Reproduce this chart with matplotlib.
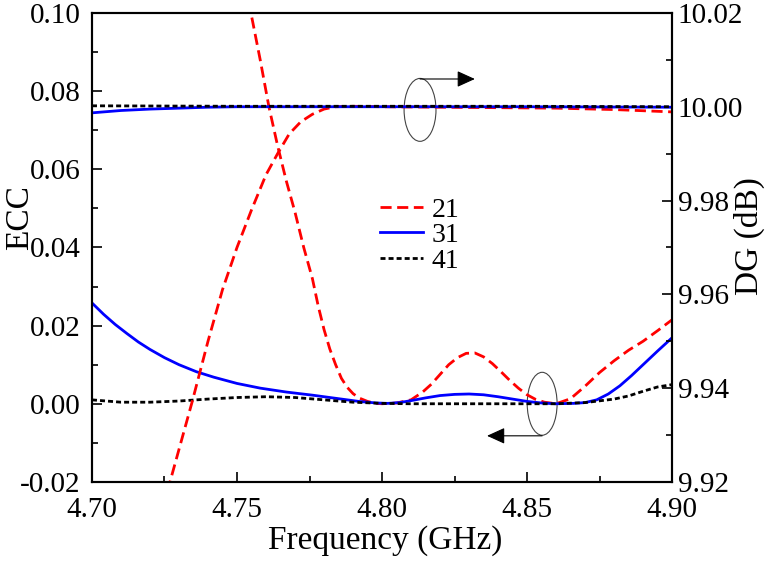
import matplotlib
matplotlib.use("Agg")
from matplotlib import pyplot as plt
from matplotlib.patches import Ellipse
from matplotlib.ticker import MultipleLocator

plt.rcParams['font.family'] = ['Liberation Serif', 'DejaVu Serif']

# ECC data
f21 = [4.754, 4.758, 4.761, 4.764, 4.767, 4.770, 4.773, 4.776, 4.778, 4.780, 4.782,
       4.784, 4.786, 4.788, 4.790, 4.792, 4.795, 4.798, 4.800, 4.805, 4.810, 4.814,
       4.817, 4.820, 4.823, 4.826, 4.829, 4.832, 4.835, 4.838, 4.841, 4.844, 4.847,
       4.850, 4.853, 4.856, 4.860, 4.865, 4.870, 4.875, 4.880, 4.885, 4.890, 4.895, 4.900]
ecc21 = [0.103, 0.088, 0.076, 0.066, 0.057, 0.049, 0.040, 0.032, 0.025, 0.019, 0.014,
         0.010, 0.0065, 0.0042, 0.0026, 0.0015, 0.0006, 0.0001, 0.0, 0.0002, 0.0010, 0.0030,
         0.0050, 0.0075, 0.0100, 0.0118, 0.0129, 0.0130, 0.0120, 0.0103, 0.0082, 0.0060, 0.0040,
         0.0023, 0.0011, 0.0004, 0.0, 0.0013, 0.0045, 0.0080, 0.0110, 0.0137, 0.0160, 0.0187, 0.0215]

f31 = [4.700, 4.704, 4.708, 4.712, 4.716, 4.720, 4.725, 4.730, 4.736, 4.742, 4.750,
       4.758, 4.767, 4.776, 4.785, 4.792, 4.798, 4.802, 4.806, 4.810, 4.815, 4.820,
       4.825, 4.830, 4.835, 4.840, 4.845, 4.850, 4.855, 4.860, 4.866, 4.870, 4.874,
       4.878, 4.882, 4.886, 4.890, 4.895, 4.900]
ecc31 = [0.0258, 0.0229, 0.0203, 0.0180, 0.0158, 0.0139, 0.0118, 0.0100, 0.0082, 0.0068, 0.0052,
         0.0040, 0.0030, 0.0022, 0.0013, 0.0006, 0.0002, 0.0001, 0.0003, 0.0008, 0.0015, 0.0021,
         0.0024, 0.0025, 0.0023, 0.0018, 0.0012, 0.0006, 0.0002, 0.0, 0.0001, 0.0003, 0.0010,
         0.0025, 0.0046, 0.0072, 0.0100, 0.0135, 0.0169]

f41 = [4.700, 4.710, 4.720, 4.730, 4.740, 4.750, 4.760, 4.770, 4.780, 4.790, 4.800,
       4.810, 4.820, 4.830, 4.840, 4.850, 4.860, 4.870, 4.880, 4.885, 4.890, 4.895, 4.900]
ecc41 = [0.0010, 0.0004, 0.0004, 0.0007, 0.0012, 0.0016, 0.0018, 0.0016, 0.0010, 0.0004, 0.0001,
         0.0, 0.0, 0.0, 0.0, 0.0, 0.0, 0.0003, 0.0012, 0.0020, 0.0032, 0.0043, 0.0049]

# DG data
fdg21 = [4.726, 4.7345, 4.740, 4.745, 4.750, 4.755, 4.760, 4.764, 4.768, 4.772,
         4.776, 4.780, 4.784, 4.790, 4.800, 4.820, 4.840, 4.860, 4.880, 4.900]
dg21 = [9.918, 9.937, 9.950, 9.961, 9.970, 9.978, 9.9855, 9.990, 9.9942, 9.9968,
        9.9984, 9.9995, 10.0000, 10.0001, 10.0000, 9.9999, 9.9998, 9.9997, 9.9994, 9.9989]

fdg31 = [4.700, 4.710, 4.720, 4.730, 4.740, 4.750, 4.800, 4.850, 4.900]
dg31 = [9.9987, 9.9992, 9.9995, 9.9997, 9.9999, 10.0000, 10.0000, 10.0000, 9.9999]

fdg41 = [4.700, 4.750, 4.800, 4.850, 4.900]
dg41 = [10.0002, 10.0001, 10.0001, 10.0001, 10.0000]

fig, ax = plt.subplots(figsize=(7.69, 5.63), dpi=100)
fig.subplots_adjust(left=0.1196, right=0.874, top=0.977, bottom=0.144)
ax2 = ax.twinx()

lw = 2.0
ax.plot(f21, ecc21, color='#ff0000', lw=lw, dashes=(4, 2), label='21')
ax.plot(f31, ecc31, color='#0000ff', lw=lw, label='31')
ax.plot(f41, ecc41, color='black', lw=lw, dashes=(1.8, 1.1), label='41')

ax2.plot(fdg21, dg21, color='#ff0000', lw=lw, dashes=(4, 2))
ax2.plot(fdg31, dg31, color='#0000ff', lw=lw)
ax2.plot(fdg41, dg41, color='black', lw=lw, dashes=(1.8, 1.1))

ax.set_xlim(4.70, 4.90)
ax.set_ylim(-0.02, 0.10)
ax2.set_ylim(9.92, 10.02)

ax.xaxis.set_major_locator(MultipleLocator(0.05))
ax.xaxis.set_minor_locator(MultipleLocator(0.025))
ax.yaxis.set_major_locator(MultipleLocator(0.02))
ax.yaxis.set_minor_locator(MultipleLocator(0.01))
ax2.yaxis.set_major_locator(MultipleLocator(0.02))
ax2.yaxis.set_minor_locator(MultipleLocator(0.01))
ax.xaxis.set_major_formatter(lambda v, p: '%.2f' % v)
ax.yaxis.set_major_formatter(lambda v, p: '%.2f' % v)
ax2.yaxis.set_major_formatter(lambda v, p: '%.2f' % v)

for a in (ax, ax2):
    a.tick_params(which='major', direction='in', length=7, width=1.2, labelsize=21)
    a.tick_params(which='minor', direction='in', length=4, width=1.2)
    for s in a.spines.values():
        s.set_linewidth(1.5)
ax.tick_params(axis='y', right=False, pad=8)
ax.tick_params(axis='x', top=False, pad=11)
ax2.tick_params(axis='y', pad=4)

ax.set_xlabel('Frequency (GHz)', fontsize=24)
ax.set_ylabel('ECC', fontsize=24)
ax2.set_ylabel('DG (dB)', fontsize=24)
ax.xaxis.set_label_coords(0.505, -0.126)
ax.yaxis.set_label_coords(-0.124, 0.563)
ax2.yaxis.set_label_coords(1.134, 0.524)
ax.xaxis.label.set_va('center')
ax.yaxis.label.set_va('center')
ax2.yaxis.label.set_va('center')

leg = ax.legend(loc='upper left', bbox_to_anchor=(0.497, 0.607), frameon=False,
                fontsize=20, handlelength=1.55, handletextpad=0.3, labelspacing=0.0,
                borderpad=0, borderaxespad=0)

# annotations: ellipses with arrows indicating axis
ax.add_patch(Ellipse((4.8131, 0.0752), 0.011, 0.0161, fill=False, ec='#444444', lw=0.8))
ax.annotate('', xy=(4.832, 0.0831), xytext=(4.8131, 0.0831),
            arrowprops=dict(arrowstyle='-|>,head_length=1.1,head_width=0.5',
                            mutation_scale=10, color='black', lw=0.8, shrinkA=0, shrinkB=0))
ax.add_patch(Ellipse((4.8552, 0.0), 0.0103, 0.0161, fill=False, ec='#444444', lw=0.8))
ax.annotate('', xy=(4.8362, -0.0082), xytext=(4.8552, -0.0082),
            arrowprops=dict(arrowstyle='-|>,head_length=1.1,head_width=0.5',
                            mutation_scale=10, color='black', lw=0.8, shrinkA=0, shrinkB=0))

fig.savefig('out.png', dpi=100)
